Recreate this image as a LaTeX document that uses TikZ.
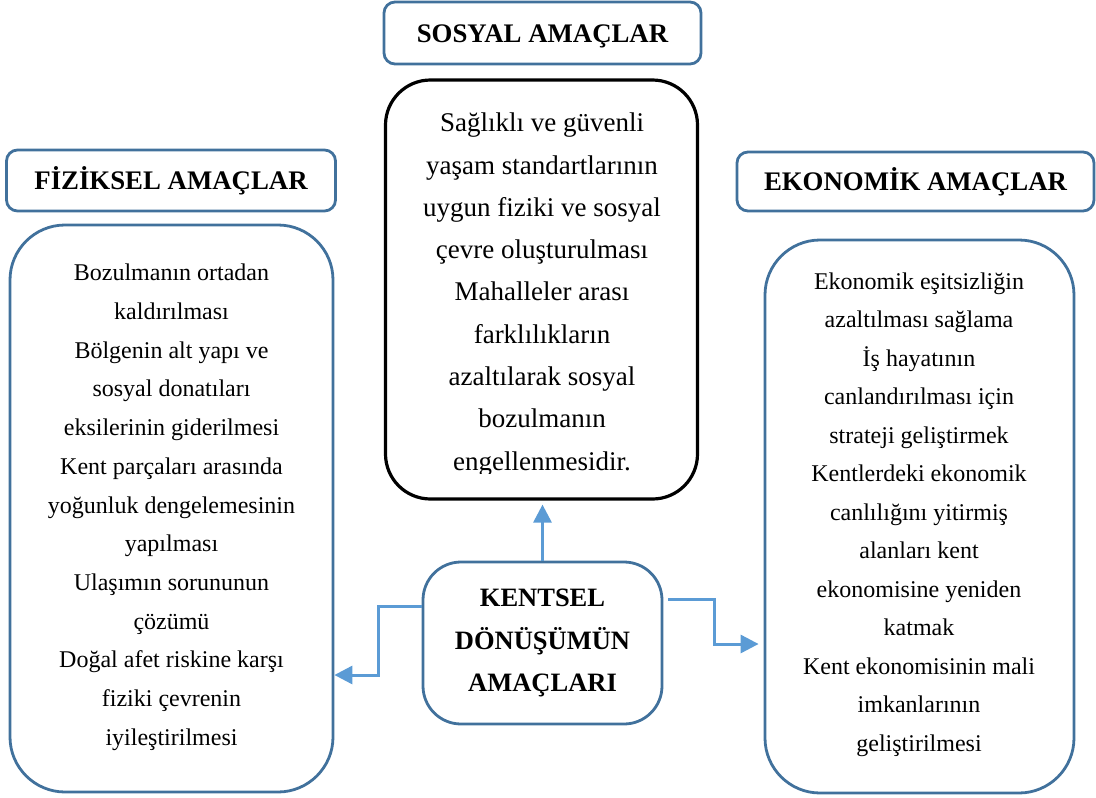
\documentclass[tikz,border=0pt]{standalone}
\usepackage{fontspec}
\setmainfont{Liberation Serif}
\usetikzlibrary{arrows.meta}
\definecolor{frameblue}{HTML}{41719C}
\definecolor{linkblue}{HTML}{5B9BD5}
\begin{document}
\begin{tikzpicture}[x=1pt,y=-1pt,
  titlebox/.style={draw=frameblue, line width=2.8pt, rounded corners=11pt,
    inner sep=0pt, align=center,
    font=\fontsize{26.8}{32}\selectfont\bfseries, text height=18pt, text depth=0pt},
  listbox/.style={draw=frameblue, line width=2.8pt, rounded corners=#1, inner sep=0pt},
  bodytext/.style={align=center, inner sep=0pt},
  link/.style={draw=linkblue, line width=3pt, -{Triangle[length=18pt,width=18pt]}}
]
\useasboundingbox (0,0) rectangle (1096,798);

% headings
\node[titlebox, minimum width=317pt, minimum height=62pt] (sostitle) at (542.5,33) {SOSYAL AMAÇLAR};
\node[titlebox, minimum width=329pt, minimum height=61pt] (fiztitle) at (171,180.5) {FİZİKSEL AMAÇLAR};
\node[titlebox, minimum width=357pt, minimum height=59pt] (ekotitle) at (915.5,181.5) {EKONOMİK AMAÇLAR};

% content frames
\node[draw=black, line width=3.2pt, rounded corners=45pt, inner sep=0pt,
      minimum width=312pt, minimum height=419pt] (sosbox) at (541.5,289.5) {};
\node[listbox=55pt, minimum width=323pt, minimum height=567pt] (fizbox) at (171.5,508.5) {};
\node[listbox=55pt, minimum width=309pt, minimum height=553pt] (ekobox) at (919.5,516.5) {};

% central node
\node[listbox=38pt, minimum width=239pt, minimum height=162pt, align=center,
      font=\fontsize{26.5}{42.25}\selectfont\bfseries] (kd) at (542.5,643)
  {KENTSEL\\DÖNÜŞÜMÜN\\AMAÇLARI};

% social goals text, cut off by the frame at the bottom
\begin{scope}
  \clip (387,82) rectangle (696,473);
  \node[bodytext, font=\fontsize{27}{42.3}\selectfont] (sostext) at (542,294.5)
    {Sağlıklı ve güvenli\\yaşam standartlarının\\uygun fiziki ve sosyal\\çevre oluşturulması\\Mahalleler arası\\farklılıkların\\azaltılarak sosyal\\bozulmanın\\engellenmesidir.};
\end{scope}

\node[bodytext, font=\fontsize{24}{38.7}\selectfont] (fiztext) at (171.5,507.3)
  {Bozulmanın ortadan\\kaldırılması\\Bölgenin alt yapı ve\\sosyal donatıları\\eksilerinin giderilmesi\\Kent parçaları arasında\\yoğunluk dengelemesinin\\yapılması\\Ulaşımın sorununun\\çözümü\\Doğal afet riskine karşı\\fiziki çevrenin\\iyileştirilmesi};

\node[bodytext, font=\fontsize{24}{38.5}\selectfont] (ekotext) at (919,514.4)
  {Ekonomik eşitsizliğin\\azaltılması sağlama\\İş hayatının\\canlandırılması için\\strateji geliştirmek\\Kentlerdeki ekonomik\\canlılığını yitirmiş\\alanları kent\\ekonomisine yeniden\\katmak\\Kent ekonomisinin mali\\imkanlarının\\geliştirilmesi};

% connectors
\coordinate (lbend) at (378,606);
\coordinate (lfoot) at (378,675);
\coordinate (rbend) at (714,599);
\coordinate (rfoot) at (714,644);

\draw[link, shorten >=4pt] (kd.north) -- (kd.north |- sosbox.south);
\draw[link] (kd.west |- lbend) -- (lbend) -- (lfoot) -- (fizbox.east |- lfoot);
\draw[link, shorten <=5pt, shorten >=5pt] (kd.east |- rbend) -- (rbend) -- (rfoot) -- (ekobox.west |- rfoot);
\end{tikzpicture}
\end{document}
